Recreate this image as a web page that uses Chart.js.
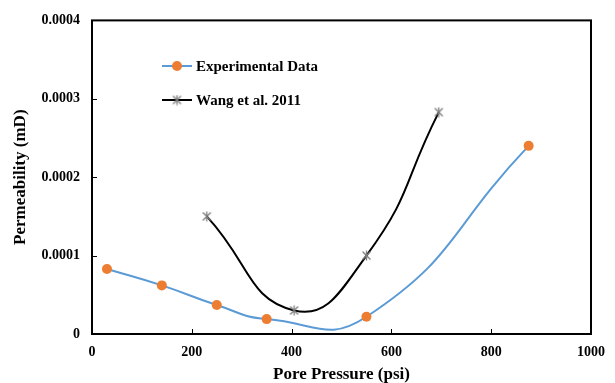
<!DOCTYPE html>
<html>
<head>
<meta charset="utf-8">
<script src="https://cdn.jsdelivr.net/npm/chart.js@4.4.1/dist/chart.umd.min.js"></script>
<style>
  html, body { margin: 0; padding: 0; background: #fff; }
  #wrap { width: 615px; height: 383px; }
</style>
</head>
<body>
<div id="wrap"><canvas id="permChart" width="615" height="383"></canvas></div>
<script>
// pore pressure (psi) vs permeability (mD)
var expPressure = [30, 140, 250, 350, 550, 875];
var expPerm = [0.000083, 0.000062, 0.000037, 0.000019, 0.000022, 0.00024];

var wangPressure = [230, 405, 550, 695];
var wangPerm = [0.00015, 0.00003, 0.0001, 0.000283];

var xTicks = [0, 200, 400, 600, 800, 1000];
var yTicks = [0, 0.0001, 0.0002, 0.0003, 0.0004];

var seriesNames = ["Experimental Data", "Wang et al. 2011"];

function toPoints(xs, ys) {
    return xs.map(function (x, i) { return { x: x, y: ys[i] }; });
}

var FONT = "'Liberation Serif', 'Times New Roman', serif";

// asterisk marker: an X with a vertical stroke
function makeStar(color) {
    var cv = document.createElement('canvas');
    cv.width = 11;
    cv.height = 11;
    var g = cv.getContext('2d');
    g.strokeStyle = color;
    g.lineWidth = 1.3;
    g.beginPath();
    g.moveTo(1.5, 1.5); g.lineTo(9.5, 9.5);
    g.moveTo(9.5, 1.5); g.lineTo(1.5, 9.5);
    g.moveTo(5.5, 0.5); g.lineTo(5.5, 10.5);
    g.stroke();
    return cv;
}
var starMarker = makeStar('#7f7f7f');

// frame, inward tick marks and the legend inside the plot
var framePlugin = {
    id: 'frame',
    afterDraw: function (chart) {
        var c = chart.ctx, a = chart.chartArea;
        var xs = chart.scales.x, ys = chart.scales.y;
        c.save();
        c.strokeStyle = '#000';
        c.lineWidth = 2;
        c.strokeRect(a.left, a.top, a.right - a.left, a.bottom - a.top);
        c.lineWidth = 1;
        c.beginPath();
        xTicks.slice(1, -1).forEach(function (v) {
            var px = Math.round(xs.getPixelForValue(v)) + 0.5;
            c.moveTo(px, a.bottom);
            c.lineTo(px, a.bottom - 5);
        });
        yTicks.slice(1, -1).forEach(function (v) {
            var py = Math.round(ys.getPixelForValue(v)) + 0.5;
            c.moveTo(a.left, py);
            c.lineTo(a.left + 5, py);
        });
        c.stroke();

        // legend
        var lx = 162, ly = [66, 100];
        chart.data.datasets.forEach(function (ds, i) {
            var y = ly[i];
            c.strokeStyle = ds.borderColor;
            c.lineWidth = 2;
            c.beginPath();
            c.moveTo(lx, y);
            c.lineTo(lx + 30, y);
            c.stroke();
            c.fillStyle = ds.pointBackgroundColor;
            c.strokeStyle = ds.pointBorderColor;
            c.lineWidth = ds.pointBorderWidth || 1;
            Chart.helpers.drawPoint(c, {
                pointStyle: ds.pointStyle,
                radius: ds.pointRadius,
                borderWidth: ds.pointBorderWidth
            }, lx + 15, y);
            c.fillStyle = '#000';
            c.font = 'bold 15px ' + FONT;
            c.textBaseline = 'middle';
            c.textAlign = 'left';
            c.fillText(seriesNames[i], lx + 34, y + 1);
        });
        c.restore();
    }
};

var ctx = document.getElementById("permChart").getContext('2d');
var permChart = new Chart(ctx, {
    type: 'scatter',
    data: {
        datasets: [
            {
                label: seriesNames[0],
                data: toPoints(expPressure, expPerm),
                showLine: true,
                tension: 0.5,
                borderColor: '#5b9bd5',
                borderWidth: 2,
                pointStyle: 'circle',
                pointRadius: 5,
                pointBorderWidth: 0,
                pointBackgroundColor: '#ed7d31',
                pointBorderColor: '#ed7d31'
            },
            {
                label: seriesNames[1],
                data: toPoints(wangPressure, wangPerm),
                showLine: true,
                tension: 0.5,
                borderColor: '#000000',
                borderWidth: 2,
                pointStyle: starMarker,
                pointRadius: 5,
                pointBorderWidth: 1,
                pointBackgroundColor: '#7f7f7f',
                pointBorderColor: '#7f7f7f'
            }
        ]
    },
    options: {
        responsive: false,
        animation: false,
        layout: { padding: { left: 0, right: 15, top: 17, bottom: 0 } },
        elements: { line: { capBezierPoints: false } },
        plugins: {
            legend: { display: false },
            tooltip: { enabled: false }
        },
        scales: {
            x: {
                type: 'linear',
                min: 0,
                max: 1000,
                afterBuildTicks: function (s) { s.ticks = xTicks.map(function (v) { return { value: v }; }); },
                afterFit: function (s) { s.height = 49; },
                grid: { display: false, drawTicks: false },
                border: { display: false },
                ticks: {
                    color: '#000',
                    padding: 10,
                    maxRotation: 0,
                    font: { family: FONT, size: 14, weight: 'bold' },
                    callback: function (v) { return String(v); }
                },
                title: {
                    display: true,
                    text: 'Pore Pressure (psi)',
                    color: '#000',
                    padding: { top: 0, bottom: -2 },
                    font: { family: FONT, size: 17, weight: 'bold' }
                }
            },
            y: {
                type: 'linear',
                min: 0,
                max: 0.0004,
                afterBuildTicks: function (s) { s.ticks = yTicks.map(function (v) { return { value: v }; }); },
                afterFit: function (s) { s.width = 92; },
                grid: { display: false, drawTicks: false },
                border: { display: false },
                ticks: {
                    color: '#000',
                    padding: 12,
                    font: { family: FONT, size: 14, weight: 'bold' },
                    callback: function (v) { return v === 0 ? '0' : v.toFixed(4); }
                },
                title: {
                    display: true,
                    text: 'Permeability (mD)',
                    color: '#000',
                    padding: { top: 10, bottom: 0 },
                    font: { family: FONT, size: 17, weight: 'bold' }
                }
            }
        }
    },
    plugins: [framePlugin]
});
</script>
</body>
</html>
